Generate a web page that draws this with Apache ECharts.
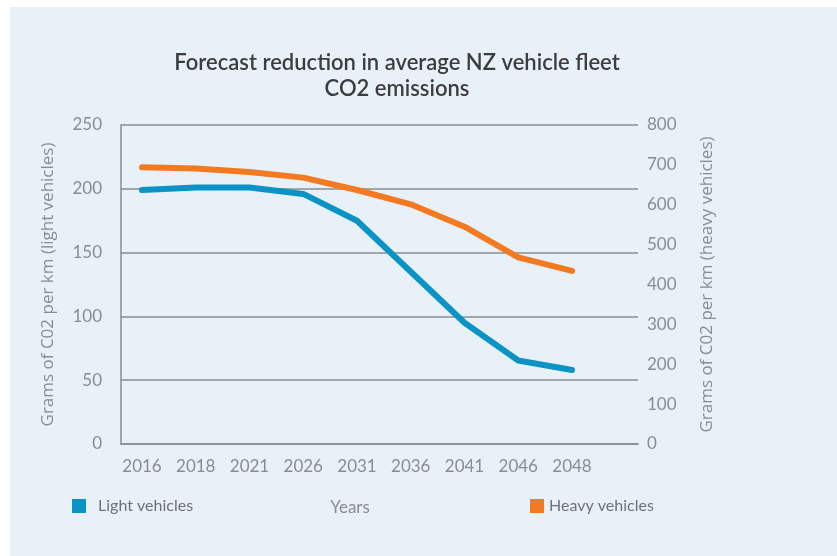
<!DOCTYPE html>
<html>
<head>
<meta charset="utf-8">
<script src="https://cdn.jsdelivr.net/npm/echarts@6/dist/echarts.min.js"></script>
<style>
  html, body { margin: 0; padding: 0; background: #fff; }
  #panel { position: absolute; left: 10px; top: 7px; width: 827px; height: 549px; background: #e8f1f8; }
  #chart { position: absolute; left: 0; top: 0; width: 837px; height: 556px; }
</style>
</head>
<body>
<div id="panel"></div>
<div id="chart"></div>
<script>
const years = ["2016", "2018", "2021", "2026", "2031", "2036", "2041", "2046", "2048"];
const lightVehicles = [199, 201, 201, 196, 175, 135, 95, 65.5, 58];
const heavyVehicles = [694, 691, 682, 668, 637, 601, 545, 468, 434];

const gray = "#8a8c8f";
const axisFont = "Lato, 'Open Sans', sans-serif";
const nameFont = "'Open Sans', sans-serif";

const chart = echarts.init(document.getElementById("chart"));

chart.setOption({
  backgroundColor: "transparent",
  title: {
    text: "Forecast reduction in average NZ vehicle fleet\nCO2 emissions",
    left: 392,
    top: 45,
    textAlign: "center",
    textStyle: {
      fontFamily: axisFont,
      fontSize: 22,
      fontWeight: 600,
      color: "#3d3d3f",
      lineHeight: 26,
    },
  },
  legend: [
    {
      data: ["Light vehicles"],
      left: 72,
      top: 498,
      padding: 0,
      icon: "rect",
      itemWidth: 14,
      itemHeight: 14,
      textStyle: { fontFamily: axisFont, fontSize: 16, color: "#6f7174", padding: [0, 0, 0, 7] },
    },
    {
      data: ["Heavy vehicles"],
      left: 530,
      top: 498,
      padding: 0,
      icon: "rect",
      itemWidth: 14,
      itemHeight: 14,
      textStyle: { fontFamily: axisFont, fontSize: 16, color: "#6f7174", padding: [0, 0, 0, 0] },
    },
  ],
  // grid 0 draws the frame and gridlines, grid 1 holds the lines
  grid: [
    { left: 121, right: 199, top: 125, bottom: 112 },
    { left: 142, right: 265, top: 125, bottom: 112 },
  ],
  xAxis: [
    {
      gridIndex: 0,
      type: "category",
      data: years,
      axisLine: { show: true, lineStyle: { color: gray, width: 1.5 } },
      axisTick: { show: false },
      axisLabel: { show: false },
    },
    {
      gridIndex: 1,
      type: "category",
      data: years,
      boundaryGap: false,
      axisLine: { show: false },
      axisTick: { show: false },
      axisLabel: { margin: 14, fontFamily: axisFont, fontSize: 17, color: gray },
      name: "Years",
      nameLocation: "middle",
      nameGap: 55,
      nameTextStyle: { fontFamily: axisFont, fontSize: 17, color: gray, padding: [0, 14, 0, 0] },
    },
  ],
  yAxis: [
    {
      gridIndex: 0,
      type: "value",
      min: 0,
      max: 250,
      interval: 50,
      position: "left",
      axisLine: { show: true, lineStyle: { color: gray, width: 1.5 } },
      axisTick: { show: false },
      splitLine: { lineStyle: { color: gray, width: 1.5 } },
      axisLabel: { margin: 19, fontFamily: axisFont, fontSize: 17, color: gray },
      name: "Grams of C02 per km (light vehicles)",
      nameLocation: "middle",
      nameGap: 64,
      nameTextStyle: { fontFamily: nameFont, fontSize: 17, color: gray },
    },
    {
      gridIndex: 0,
      type: "value",
      min: 0,
      max: 800,
      interval: 100,
      position: "right",
      axisLine: { show: false },
      axisTick: { show: false },
      splitLine: { show: false },
      axisLabel: { margin: 9, fontFamily: axisFont, fontSize: 17, color: gray },
      name: "Grams of C02 per km (heavy vehicles)",
      nameLocation: "middle",
      nameGap: 61,
      nameRotate: 90,
      nameTextStyle: { fontFamily: nameFont, fontSize: 17, color: gray },
    },
    { gridIndex: 1, type: "value", min: 0, max: 250, show: false },
    { gridIndex: 1, type: "value", min: 0, max: 800, show: false },
  ],
  series: [
    {
      name: "Light vehicles",
      type: "line",
      xAxisIndex: 1,
      yAxisIndex: 2,
      data: lightVehicles,
      symbol: "none",
      color: "#0b93c5",
      lineStyle: { width: 6, cap: "round", join: "round" },
    },
    {
      name: "Heavy vehicles",
      type: "line",
      xAxisIndex: 1,
      yAxisIndex: 3,
      data: heavyVehicles,
      symbol: "none",
      color: "#f47a22",
      lineStyle: { width: 6, cap: "round", join: "round" },
    },
  ],
  animation: false,
});
</script>
</body>
</html>
